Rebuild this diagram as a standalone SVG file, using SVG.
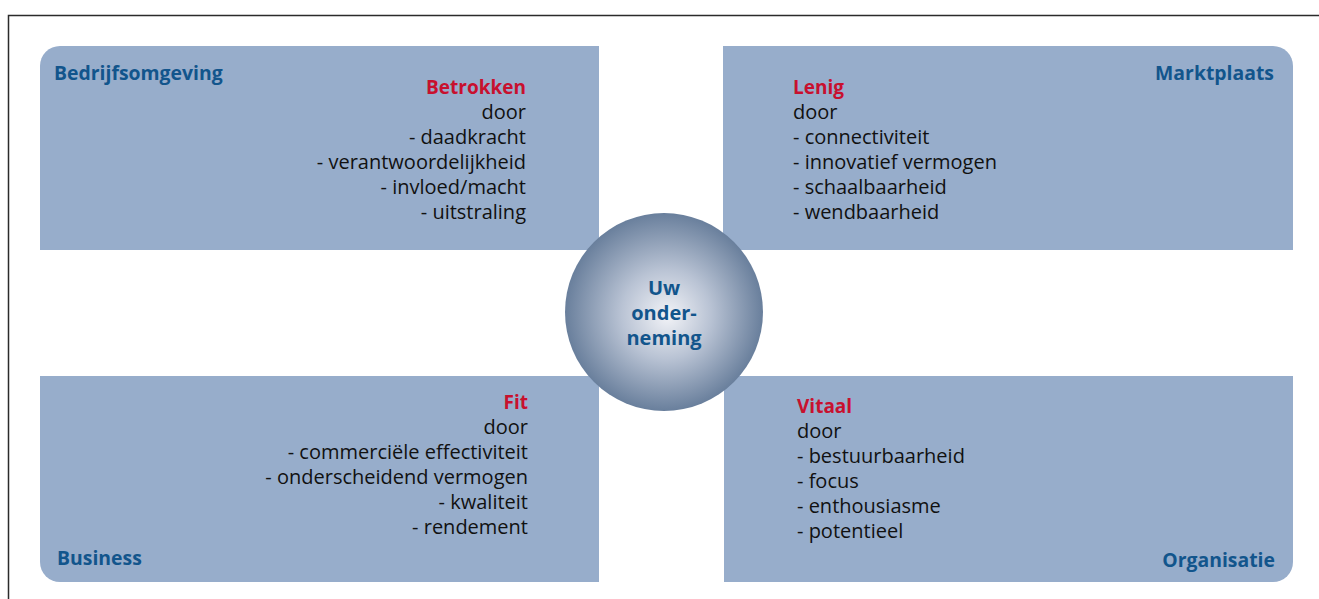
<svg xmlns="http://www.w3.org/2000/svg" width="1319" height="599" viewBox="0 0 1319 599">
<defs>
<radialGradient id="sphere" cx="50%" cy="50%" r="50%" fx="52%" fy="52%">
<stop offset="0" stop-color="#f2f3f7"/>
<stop offset="0.45" stop-color="#b9c3d4"/>
<stop offset="1" stop-color="#697f9c"/>
</radialGradient>
<style>
.box{fill:#97adcb}
.frame{fill:none;stroke:#2b2b2b;stroke-width:1.5}
text{font-family:"Open Sans","Noto Sans",sans-serif;font-size:20px}
.corner{font-weight:bold;fill:#12558c;font-size:19.4px}
.head{font-weight:bold;fill:#c8102e;font-size:19px}
.item{fill:#111}
.end{text-anchor:end}
.mid{text-anchor:middle;font-weight:bold;fill:#12558c;font-size:20px}
</style>
</defs>
<path class="frame" d="M8.5,599 V15.5 H1319"/>
<g id="bedrijfsomgeving">
<path class="box" d="M60,46 H599 V250 H40 V66 A20,20 0 0 1 60,46 Z"/>
<text class="corner" x="54" y="80">Bedrijfsomgeving</text>
<text class="head end" x="526" y="94">Betrokken</text>
<text class="item end" x="526" y="119">door</text>
<text class="item end" x="526" y="144">- daadkracht</text>
<text class="item end" x="526" y="169">- verantwoordelijkheid</text>
<text class="item end" x="526" y="194">- invloed/macht</text>
<text class="item end" x="526" y="219">- uitstraling</text>
</g>
<g id="marktplaats">
<path class="box" d="M723,46 H1273 A20,20 0 0 1 1293,66 V250 H723 Z"/>
<text class="corner end" x="1274" y="80">Marktplaats</text>
<text class="head" x="793" y="94">Lenig</text>
<text class="item" x="793" y="119">door</text>
<text class="item" x="793" y="144">- connectiviteit</text>
<text class="item" x="793" y="169">- innovatief vermogen</text>
<text class="item" x="793" y="194">- schaalbaarheid</text>
<text class="item" x="793" y="219">- wendbaarheid</text>
</g>
<g id="business">
<path class="box" d="M40,376 H599 V582 H60 A20,20 0 0 1 40,562 Z"/>
<text class="corner" x="57" y="565">Business</text>
<text class="head end" x="528" y="409">Fit</text>
<text class="item end" x="528" y="434">door</text>
<text class="item end" x="528" y="459">- commerciële effectiviteit</text>
<text class="item end" x="528" y="484">- onderscheidend vermogen</text>
<text class="item end" x="528" y="509">- kwaliteit</text>
<text class="item end" x="528" y="534">- rendement</text>
</g>
<g id="organisatie">
<path class="box" d="M724,376 H1293 V562 A20,20 0 0 1 1273,582 H724 Z"/>
<text class="corner end" x="1275" y="567">Organisatie</text>
<text class="head" x="797" y="413">Vitaal</text>
<text class="item" x="797" y="438">door</text>
<text class="item" x="797" y="463">- bestuurbaarheid</text>
<text class="item" x="797" y="488">- focus</text>
<text class="item" x="797" y="513">- enthousiasme</text>
<text class="item" x="797" y="538">- potentieel</text>
</g>
<g id="uw-onderneming">
<circle cx="664" cy="312" r="99" fill="url(#sphere)"/>
<text class="mid" x="664" y="295">Uw</text>
<text class="mid" x="664" y="320">onder-</text>
<text class="mid" x="664" y="345">neming</text>
</g>
<g id="connectors"/>
</svg>
